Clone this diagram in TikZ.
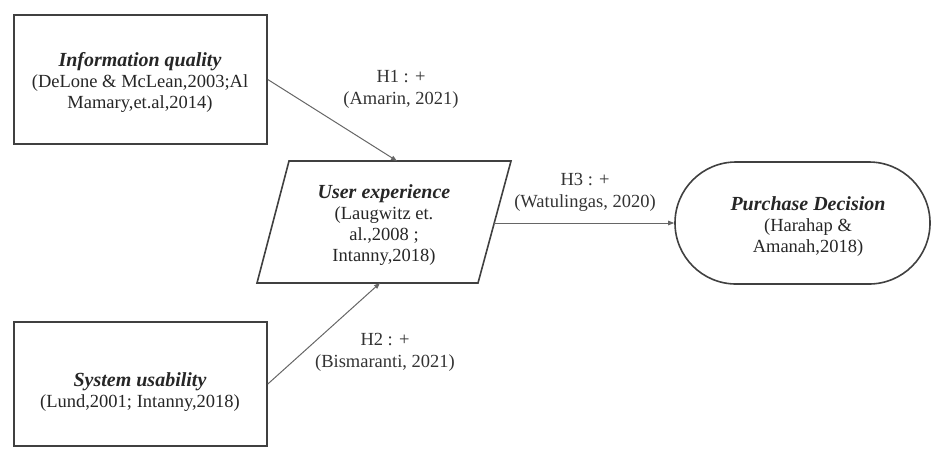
\documentclass[tikz,border=0pt]{standalone}
\usepackage{fontspec}
\setmainfont{Liberation Serif}
\usetikzlibrary{arrows.meta,shapes.misc}
\newcommand\ttlfont{\fontsize{20}{20.8}\selectfont\bfseries\itshape}
\begin{document}
\begin{tikzpicture}[x=1pt,y=-1pt,
  boxline/.style={draw=black!75,line width=1.6pt},
  txt/.style={align=center,font=\fontsize{18.5}{20.8}\selectfont,inner sep=0pt,text=black!85},
  conn/.style={draw=black!60,line width=1pt,-{Triangle[length=6pt,width=4.5pt]}},
  lbl/.style={align=center,font=\fontsize{18.5}{22}\selectfont,inner sep=0pt,text=black!80}]
\useasboundingbox (0,0) rectangle (933,448);
% Information quality
\node[boxline,minimum width=253pt,minimum height=129pt,inner sep=0pt] (iq) at (140.5,79.5) {};
\node[txt] (iqt) at (140,82.5) {{\ttlfont Information quality}\\(DeLone \& McLean,2003;Al\\Mamary,et.al,2014)};
% System usability
\node[boxline,minimum width=253pt,minimum height=124pt,inner sep=0pt] (su) at (140.5,384) {};
\node[txt] (sut) at (140,392) {{\ttlfont System usability}\\(Lund,2001; Intanny,2018)};
% User experience parallelogram
\coordinate (ueTL) at (289,161);
\coordinate (ueTR) at (511,161);
\coordinate (ueBR) at (478,283);
\coordinate (ueBL) at (257,283);
\draw[boxline] (ueTL) -- (ueTR) -- (ueBR) -- (ueBL) -- cycle;
\node[txt] (ue) at (384,225) {{\ttlfont User experience}\\(Laugwitz et.\\al.,2008 ;\\Intanny,2018)};
\coordinate (ueIn1) at (397,161);
\coordinate (ueIn2) at (380,283);
\coordinate (ueOut) at (494.2,223);
% Purchase decision
\node[boxline,rounded rectangle,minimum width=255pt,minimum height=122pt,inner sep=0pt] (pd) at (802.5,223) {};
\node[txt] (pdt) at (808,226.5) {{\ttlfont Purchase Decision}\\(Harahap \&\\Amanah,2018)};
% connectors
\draw[conn] (iq.east) -- (ueIn1);
\draw[conn] (su.east) -- (ueIn2);
\draw[conn] (ueOut) -- (pd.west);
% labels
\node[lbl] (h1) at (401,89) {H1 : +\\(Amarin, 2021)};
\node[lbl] (h2) at (385,352) {H2 : +\\(Bismaranti, 2021)};
\node[lbl] (h3) at (585,192) {H3 : +\\(Watulingas, 2020)};
\end{tikzpicture}
\end{document}
